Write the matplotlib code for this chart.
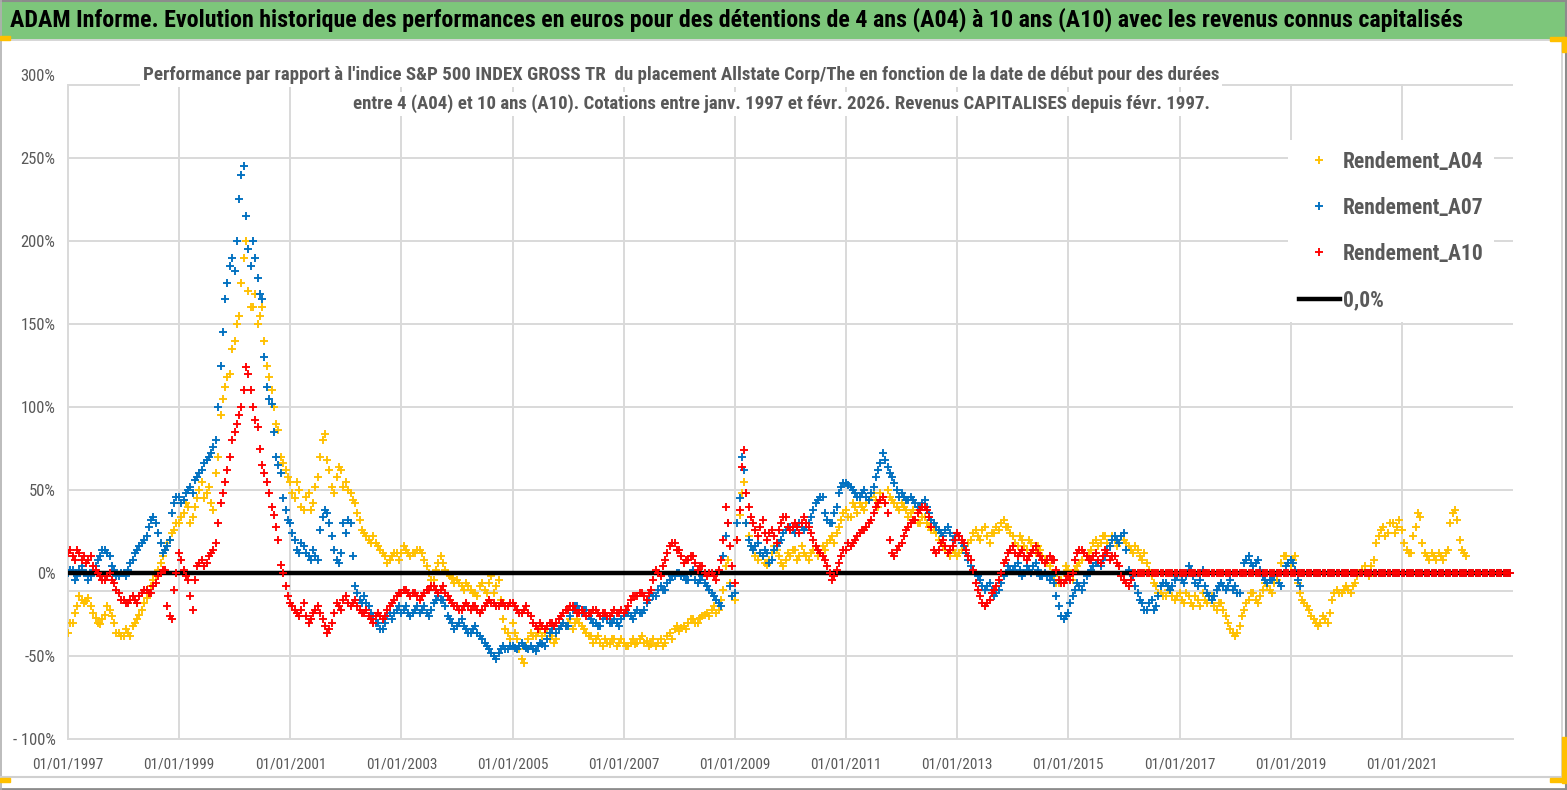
import numpy as np
import pandas as pd
import matplotlib
matplotlib.use("Agg")
import matplotlib.pyplot as plt
import matplotlib.dates as mdates
from matplotlib.patches import Rectangle
from matplotlib.lines import Line2D
from matplotlib import font_manager as fm

# ---------------- data (readings on the 1st and the 15th of each month, %) ----------------
START = "1997-01-01"
N_MONTHS = 312  # Jan 1997 .. Dec 2022

A04 = [
    -36, -30, -20, -16, -17, -20, -27, -31, -25, -22, -30, -36,   # 1997
    -38, -36, -32, -28, -22, -15, -8, -2, 6, 14, 20, 26,          # 1998
    30, 36, 40, 34, 45, 55, 48, 42, 60, 95, 112, 120,             # 1999
    140, 155, 190, 170, 160, 150, 160, 125, 110, 90, 70, 62,      # 2000
    55, 45, 50, 38, 48, 42, 58, 80, 68, 52, 58, 62,               # 2001
    55, 48, 42, 32, 24, 20, 22, 16, 12, 6, 10, 12,                # 2002
    12, 14, 10, 12, 14, 8, 0, -4, 6, 6, 0, -3,                    # 2003
    -4, -8, -6, -10, -12, -8, -10, -6, -12, -4, -28, -36,         # 2004
    -30, -40, -52, -44, -36, -38, -34, -36, -40, -42, -34, -30,   # 2005
    -30, -34, -28, -32, -36, -38, -40, -42, -40, -43, -40, -42,   # 2006
    -42, -44, -40, -42, -38, -41, -43, -44, -40, -42, -36, -34,   # 2007
    -35, -32, -30, -28, -30, -26, -24, -22, -24, -16, 4, -6,      # 2008
    -16, 35, 55, 22, 14, 8, 10, 5, 12, 14, 6, 8,                  # 2009
    10, 14, 10, 12, 8, 14, 10, 16, 18, 22, 24, 32,                # 2010
    38, 34, 40, 42, 38, 44, 48, 40, 46, 50, 44, 40,               # 2011
    42, 38, 36, 32, 30, 34, 28, 26, 20, 16, 12, 14,               # 2012
    10, 14, 12, 20, 26, 20, 28, 18, 24, 26, 32, 28,               # 2013
    22, 16, 20, 14, 18, 12, 14, 8, 4, -2, -6, 0,                  # 2014
    2, -4, 4, 8, 10, 14, 20, 18, 22, 16, 20, 18,                  # 2015
    20, 16, 12, 14, 8, 6, -2, -8, -12, -14, -10, -16,             # 2016
    -12, -18, -14, -20, -16, -12, -18, -14, -22, -18, -26, -34,   # 2017
    -38, -32, -22, -16, -12, -18, -10, -8, -12, -4, 6, 10,        # 2018
    4, 10, -12, -18, -22, -28, -32, -26, -30, -16, -10, -12,      # 2019
    -8, -12, -6, 0, 4, -2, 8, 22, 28, 24, 30, 28,                 # 2020
    26, 14, 12, 28, 34, 12, 8, 10, 12, 8, 14, 36,                 # 2021
    32, 14, 10, 0, 0, 0, 0, 0, 0, 0, 0, 0,                        # 2022
]
A04_MID = [
    -30, -24, -14, -18, -15, -24, -30, -28, -20, -26, -36, -38,   # 1997
    -34, -38, -30, -25, -18, -12, -4, 2, 10, 18, 24, 30,          # 1998
    34, 42, 30, 40, 50, 45, 52, 38, 70, 105, 118, 135,            # 1999
    150, 175, 200, 160, 168, 155, 140, 118, 100, 86, 66, 58,      # 2000
    48, 55, 40, 46, 38, 52, 70, 84, 62, 48, 64, 52,               # 2001
    50, 44, 36, 26, 22, 18, 18, 14, 10, 8, 12, 8,                 # 2002
    16, 12, 12, 14, 12, 4, -4, 2, 10, 2, -2, -6,                  # 2003
    -6, -10, -8, -12, -14, -6, -12, -2, -8, -16, -34, -40,        # 2004
    -36, -46, -54, -40, -38, -36, -38, -34, -38, -40, -32, -32,   # 2005
    -28, -30, -30, -34, -38, -42, -38, -44, -42, -40, -44, -40,   # 2006
    -44, -42, -43, -40, -42, -44, -40, -42, -44, -38, -40, -32,   # 2007
    -33, -34, -28, -30, -27, -25, -26, -20, -22, -10, 8, -14,     # 2008
    20, 48, 30, 16, 10, 12, 6, 8, 16, 10, 4, 12,                  # 2009
    14, 8, 16, 10, 12, 16, 12, 14, 20, 18, 28, 36,                # 2010
    34, 42, 36, 40, 42, 46, 44, 48, 42, 46, 42, 38,               # 2011
    40, 34, 38, 30, 34, 30, 26, 24, 18, 14, 10, 12,               # 2012
    12, 16, 18, 24, 22, 26, 22, 24, 28, 30, 28, 24,               # 2013
    18, 22, 16, 20, 14, 16, 10, 6, 0, -6, -4, 4,                  # 2014
    -2, 2, 6, 12, 12, 18, 16, 22, 18, 22, 16, 22,                 # 2015
    18, 14, 16, 10, 12, 2, -6, -12, -14, -10, -14, -14,           # 2016
    -16, -12, -18, -14, -20, -16, -14, -20, -18, -22, -30, -36,   # 2017
    -36, -26, -18, -12, -16, -14, -6, -10, -6, 0, 10, 6,          # 2018
    8, -6, -16, -20, -26, -30, -30, -28, -24, -12, -12, -10,      # 2019
    -10, -8, -2, 2, 0, 4, 18, 26, 22, 30, 24, 32,                 # 2020
    18, 12, 22, 36, 18, 10, 12, 8, 10, 12, 30, 38,                # 2021
    20, 12, 0, 0, 0, 0, 0, 0, 0, 0, 0, 0,                         # 2022
]

A07 = [
    0, 2, -2, 4, 0, -2, 4, 10, 14, 10, 2, -2,                     # 1997
    0, 2, 8, 14, 18, 22, 32, 30, 18, 14, 20, 42,                  # 1998
    46, 44, 50, 48, 58, 62, 68, 72, 80, 125, 165, 185,            # 1999
    182, 225, 245, 195, 200, 178, 165, 112, 102, 70, 60, 38,      # 2000
    30, 20, 12, 16, 10, 14, 8, 34, 36, 22, 8, 12,                 # 2001
    24, 30, -8, -16, -14, -20, -26, -30, -34, -26, -28, -22,      # 2002
    -24, -20, -26, -22, -24, -20, -26, -18, -14, -16, -26, -30,   # 2003
    -32, -28, -34, -36, -32, -38, -42, -46, -50, -48, -44, -46,   # 2004
    -44, -46, -42, -45, -44, -47, -42, -44, -36, -32, -34, -30,   # 2005
    -32, -22, -20, -24, -22, -28, -30, -32, -26, -30, -28, -32,   # 2006
    -26, -24, -28, -22, -24, -18, -12, -14, -8, -10, -4, -2,      # 2007
    0, -2, -4, 2, -6, -2, -8, -12, -16, -20, 22, -8,              # 2008
    -12, 45, 62, 20, 14, 18, 10, 12, 8, 16, 20, 26,               # 2009
    28, 24, 30, 26, 30, 38, 44, 46, 32, 30, 40, 52,               # 2010
    54, 52, 48, 46, 50, 44, 52, 62, 72, 64, 58, 50,               # 2011
    48, 44, 46, 42, 40, 44, 36, 30, 26, 22, 28, 20,               # 2012
    24, 18, 12, 4, 0, -4, -10, -6, -14, -10, -2, 4,               # 2013
    2, 6, -2, 4, 0, 6, -2, 0, -4, -6, -20, -28,                   # 2014
    -24, -14, -6, -10, -2, 2, 6, 4, 10, 16, 22, 18,               # 2015
    24, 2, -2, -12, -18, -22, -16, -20, -8, -6, -10, -4,          # 2016
    0, -6, 4, -2, -8, 2, -12, -16, -10, -6, -10, -4,              # 2017
    -8, -12, 6, 10, 4, 8, -2, -6, -4, 0, -8, 4,                   # 2018
    8, 2, -8, 0, 0, 0, 0, 0, 0, 0, 0, 0,                          # 2019
] + [0] * 36                                                      # 2020-2022
A07_MID = [
    2, -4, 2, 0, -4, 2, 8, 14, 12, 4, -2, 0,                      # 1997
    -2, 6, 12, 16, 20, 28, 34, 24, 12, 16, 36, 46,                # 1998
    42, 48, 52, 56, 60, 66, 70, 76, 100, 145, 175, 190,           # 1999
    200, 240, 215, 185, 190, 168, 130, 105, 85, 65, 45, 32,       # 2000
    24, 14, 18, 12, 8, 10, 26, 38, 30, 14, 6, 30,                 # 2001
    32, 10, -12, -18, -18, -24, -30, -34, -30, -24, -24, -20,     # 2002
    -22, -24, -24, -20, -22, -24, -22, -16, -16, -20, -28, -34,   # 2003
    -30, -32, -36, -34, -36, -40, -44, -48, -52, -46, -46, -44,   # 2004
    -45, -44, -44, -46, -46, -44, -43, -40, -34, -36, -32, -32,   # 2005
    -26, -20, -22, -22, -26, -30, -32, -28, -28, -30, -30, -28,   # 2006
    -24, -26, -24, -24, -22, -16, -14, -10, -10, -6, -2, 0,       # 2007
    -2, -4, 0, -4, -4, -6, -10, -14, -18, 10, 30, -14,            # 2008
    30, 70, 30, 16, 16, 12, 14, 6, 14, 18, 24, 28,                # 2009
    26, 28, 28, 28, 34, 42, 46, 36, 30, 36, 48, 54,               # 2010
    53, 50, 46, 48, 46, 48, 58, 66, 68, 60, 54, 46,               # 2011
    46, 44, 44, 40, 42, 40, 32, 28, 24, 26, 24, 22,               # 2012
    22, 16, 8, 2, -2, -8, -8, -10, -12, -6, 0, 2,                 # 2013
    4, 2, 0, 2, 4, 2, -2, -2, -2, -14, -26, -26,                  # 2014
    -18, -10, -8, -6, 0, 4, 6, 8, 14, 20, 20, 22,                 # 2015
    14, -4, -8, -16, -22, -18, -22, -14, -6, -8, -8, -2,          # 2016
    -4, -2, 2, -6, -4, -8, -14, -14, -8, -8, -8, -10,             # 2017
    -12, 0, 8, 6, 6, 2, -4, -4, -2, -6, 0, 6,                     # 2018
    6, -4, 0, 0, 0, 0, 0, 0, 0, 0, 0, 0,                          # 2019
] + [0] * 36                                                      # 2020-2022

A10 = [
    12, 10, 14, 8, 6, 10, 2, -2, -4, 0, -6, -12,                  # 1997
    -16, -18, -14, -18, -12, -10, -12, -6, 0, 2, -26, -10,        # 1998
    12, 2, -4, -22, 4, 8, 6, 12, 18, 42, 55, 70,                  # 1999
    85, 95, 110, 120, 100, 88, 65, 55, 40, 28, 5, -8,             # 2000
    -18, -22, -26, -18, -30, -24, -20, -28, -36, -30, -18, -22,   # 2001
    -14, -20, -16, -22, -24, -26, -30, -24, -28, -22, -18, -14,   # 2002
    -12, -10, -14, -12, -16, -12, -10, -8, -12, -8, -14, -18,     # 2003
    -20, -22, -18, -22, -20, -24, -20, -16, -18, -20, -18, -20,   # 2004
    -18, -22, -24, -20, -26, -32, -30, -34, -30, -32, -28, -24,   # 2005
    -22, -20, -24, -22, -26, -24, -22, -26, -24, -26, -22, -24,   # 2006
    -24, -20, -14, -14, -12, -16, -10, 2, -2, 8, 16, 18,          # 2007
    14, 6, 8, 10, 2, 4, -2, 0, -4, 8, 40, 16,                     # 2008
    -6, 38, 74, 40, 30, 22, 32, 20, 26, 18, 30, 34,               # 2009
    26, 30, 24, 34, 28, 20, 14, 10, 4, -4, 2, 10,                 # 2010
    14, 16, 20, 24, 26, 30, 36, 42, 46, 36, 12, 14,               # 2011
    18, 26, 30, 32, 38, 40, 34, 14, 14, 20, 12, 16,               # 2012
    24, 20, 14, 8, -6, -14, -20, -16, -10, -4, 6, 12,             # 2013
    16, 10, 14, 8, 12, 16, 10, 6, 10, 8, -4, -6,                  # 2014
    -2, 0, 12, 14, 10, 8, 12, 6, 14, 8, 10, 4,                    # 2015
    -4, -8, 0, 0, 0, 0, 0, 0, 0, 0, 0, 0,                         # 2016
] + [0] * 72                                                      # 2017-2022
A10_MID = [
    14, 8, 12, 10, 8, 4, 0, -4, -2, -4, -10, -16,                 # 1997
    -18, -16, -16, -14, -10, -12, -8, -2, 2, -20, -28, 0,         # 1998
    8, -2, -14, -4, 6, 4, 10, 14, 30, 48, 62, 80,                 # 1999
    90, 100, 124, 110, 92, 75, 60, 48, 35, 20, 0, -14,            # 2000
    -20, -24, -22, -26, -28, -22, -24, -32, -34, -24, -20, -16,   # 2001
    -18, -18, -20, -24, -22, -28, -26, -26, -26, -20, -16, -12,   # 2002
    -10, -12, -12, -14, -14, -10, -8, -10, -10, -12, -16, -20,    # 2003
    -22, -20, -20, -20, -22, -22, -18, -18, -20, -18, -20, -18,   # 2004
    -20, -24, -22, -24, -30, -34, -32, -32, -30, -30, -26, -22,   # 2005
    -20, -22, -24, -24, -24, -22, -24, -24, -26, -24, -24, -22,   # 2006
    -22, -16, -14, -12, -14, -12, -4, 0, 4, 12, 18, 14,           # 2007
    10, 8, 10, 6, 4, 0, 0, -2, 2, 20, 30, 4,                      # 2008
    20, 64, 48, 34, 26, 28, 24, 24, 22, 26, 34, 28,               # 2009
    28, 28, 30, 30, 24, 16, 12, 8, 0, -2, 6, 14,                  # 2010
    18, 18, 22, 26, 28, 32, 40, 44, 42, 20, 10, 16,               # 2011
    22, 28, 32, 36, 40, 38, 28, 12, 18, 16, 14, 20,               # 2012
    22, 18, 10, 2, -10, -18, -18, -12, -8, 0, 8, 14,              # 2013
    12, 12, 10, 10, 14, 12, 8, 8, 8, 2, -6, -4,                   # 2014
    -4, 8, 14, 12, 8, 10, 8, 10, 12, 10, 6, -2,                   # 2015
    -6, -4, 0, 0, 0, 0, 0, 0, 0, 0, 0, 0,                         # 2016
] + [0] * 72                                                      # 2017-2022

ZERO_REF = [0.0] * N_MONTHS   # the "0,0%" reference series

SERIES_NAMES = ["Rendement_A04", "Rendement_A07", "Rendement_A10", "0,0%"]
Y_TICKS = [-100, -50, 0, 50, 100, 150, 200, 250, 300]
Y_TICK_LABELS = ["- 100%", "-50%", "0%", "50%", "100%", "150%", "200%", "250%", "300%"]
X_TICK_DATES = pd.date_range("1997-01-01", "2021-01-01", freq="2YS")
X_LIM = ("1997-01-01", "2023-01-01")

TITLE = ("ADAM Informe. Evolution historique des performances en euros pour des "
         "détentions de 4 ans (A04) à 10 ans (A10) avec les revenus connus capitalisés")
SUB1 = ("Performance par rapport à l'indice S&P 500 INDEX GROSS TR  du placement "
        "Allstate Corp/The en fonction de la date de début pour des durées")
SUB2 = ("entre 4 (A04) et 10 ans (A10). Cotations entre janv. 1997 et févr. 2026. "
        "Revenus CAPITALISES depuis févr. 1997.")

# ---------------- styling ----------------
W, H = 1567, 790
names = {f.name for f in fm.fontManager.ttflist}
NARROW = next((n for n in ["Liberation Sans Narrow", "Roboto Condensed",
                           "Open Sans Condensed", "Noto Sans"] if n in names), "DejaVu Sans")
FAM = [NARROW, "DejaVu Sans"]
GRAY_TXT = "#595959"
GRID = "#D9D9D9"
C04, C07, C10 = "#FFC000", "#0070C0", "#FF0000"


def fx(px):
    return px / W


def fy(py):
    return 1 - py / H


fig = plt.figure(figsize=(W / 100, H / 100), dpi=100)
fig.patch.set_facecolor("white")
ax = fig.add_axes([fx(68), fy(739), fx(1513) - fx(68), fy(75) - fy(739)])

semi = pd.date_range(START, periods=2 * N_MONTHS, freq="SMS")
d_start, d_mid = semi[0::2], semi[1::2]

mk = dict(ls="none", marker="+", ms=5.8, mew=1.35)
h04, = ax.plot(d_start, A04, color=C04, zorder=3, **mk)
ax.plot(d_mid, A04_MID, color=C04, zorder=3, **mk)
h07, = ax.plot(d_start, A07, color=C07, zorder=4, **mk)
ax.plot(d_mid, A07_MID, color=C07, zorder=4, **mk)
h0, = ax.plot(d_start, ZERO_REF, color="black", lw=3.2, zorder=5)
h10, = ax.plot(d_start, A10, color=C10, zorder=6, **mk)
ax.plot(d_mid, A10_MID, color=C10, zorder=6, **mk)

ax.set_xlim(pd.Timestamp(X_LIM[0]), pd.Timestamp(X_LIM[1]))
ax.set_ylim(-100, 300)

# gridlines (as rendered in the reference)
for v in [-50, -11, 50, 100, 150, 200, 250, 294]:
    ax.axhline(v, color=GRID, lw=1.4, zorder=0)
for d in X_TICK_DATES[1:]:
    ax.axvline(d, ymax=(294 + 100) / 400, color=GRID, lw=1.4, zorder=0)

for s in ["top", "right"]:
    ax.spines[s].set_visible(False)
for s in ["left", "bottom"]:
    ax.spines[s].set_color(GRID)
    ax.spines[s].set_linewidth(1.4)
ax.spines["left"].set_bounds(-100, 294)

ax.set_yticks(Y_TICKS)
ax.set_yticklabels(Y_TICK_LABELS)
ax.set_xticks(X_TICK_DATES)
ax.xaxis.set_major_formatter(mdates.DateFormatter("%d/%m/%Y"))
ax.tick_params(length=0, colors=GRAY_TXT)
ax.tick_params(axis="y", pad=9, labelsize=12)
ax.tick_params(axis="x", pad=13, labelsize=11)
for lab in ax.get_xticklabels() + ax.get_yticklabels():
    lab.set_family(FAM)

# legend
leg = ax.legend(handles=[h04, h07, h10, h0], labels=SERIES_NAMES,
                loc="upper left", bbox_to_anchor=(fx(1288), fy(140)),
                bbox_transform=fig.transFigure, frameon=True, facecolor="white",
                edgecolor="none", framealpha=1, fancybox=False,
                prop={"family": FAM, "weight": "bold", "size": 15.5},
                labelcolor=GRAY_TXT, handlelength=1.9, handletextpad=0.15,
                labelspacing=1.12, borderpad=0.5, borderaxespad=0)
leg.set_zorder(10)

# banner
fig.patches.append(Rectangle((0, fy(38)), fx(1564), fy(2) - fy(38),
                             transform=fig.transFigure, color="#7DC67B", zorder=1))
t_title = fig.text(fx(10), fy(20), TITLE, ha="left", va="center", fontsize=17,
                   fontweight="bold", family=FAM, color="black", zorder=2)
s1 = fig.text(fx(681), fy(75), SUB1, ha="center", va="center", fontsize=13,
              fontweight="bold", family=FAM, color=GRAY_TXT, zorder=8,
              bbox=dict(facecolor="white", edgecolor="none", pad=2))
s2 = fig.text(fx(781), fy(104), SUB2, ha="center", va="center", fontsize=13,
              fontweight="bold", family=FAM, color=GRAY_TXT, zorder=8,
              bbox=dict(facecolor="white", edgecolor="none", pad=2))

# fit text widths to the reference
renderer = fig.canvas.get_renderer()


def fit(txt, target):
    bb = txt.get_window_extent(renderer)
    txt.set_fontsize(txt.get_fontsize() * target / bb.width)


fit(t_title, 1452)
fit(s1, 992)
fit(s2, 913)
fs_sub = 0.5 * (s1.get_fontsize() + s2.get_fontsize())
s1.set_fontsize(fs_sub)
s2.set_fontsize(fs_sub)


# frame lines and selection handles
def fline(x0, y0, x1, y1, color, lw):
    fig.lines.append(Line2D([fx(x0), fx(x1)], [fy(y0), fy(y1)],
                            transform=fig.transFigure, color=color, lw=lw, zorder=9))


fline(0, 1, W, 1, "#8C8C8C", 1.5)
fline(0, 788.5, W, 788.5, "#8C8C8C", 2)
fline(0.7, 0, 0.7, H, "#B0B0B0", 1.2)
fline(W - 0.7, 0, W - 0.7, H, "#8C8C8C", 1.5)
fline(0, 39.5, 1562, 39.5, "#D0D0D0", 1.2)
fline(0, 776.5, 1562, 776.5, "#D0D0D0", 1.5)
fline(1561.5, 40, 1561.5, 777, "#D0D0D0", 1.2)
Y = "#FFC000"
for (x0, y0, w, h) in [(0, 36, 10, 4), (1550, 37, 15, 4), (1562, 37, 3.5, 15),
                       (1562, 737, 3.5, 46), (1550, 778, 15, 4), (0, 778, 10, 4)]:
    fig.patches.append(Rectangle((fx(x0), fy(y0 + h)), fx(w), fy(0) - fy(h),
                                 transform=fig.transFigure, color=Y, zorder=10))

fig.savefig("out.png", dpi=100)
